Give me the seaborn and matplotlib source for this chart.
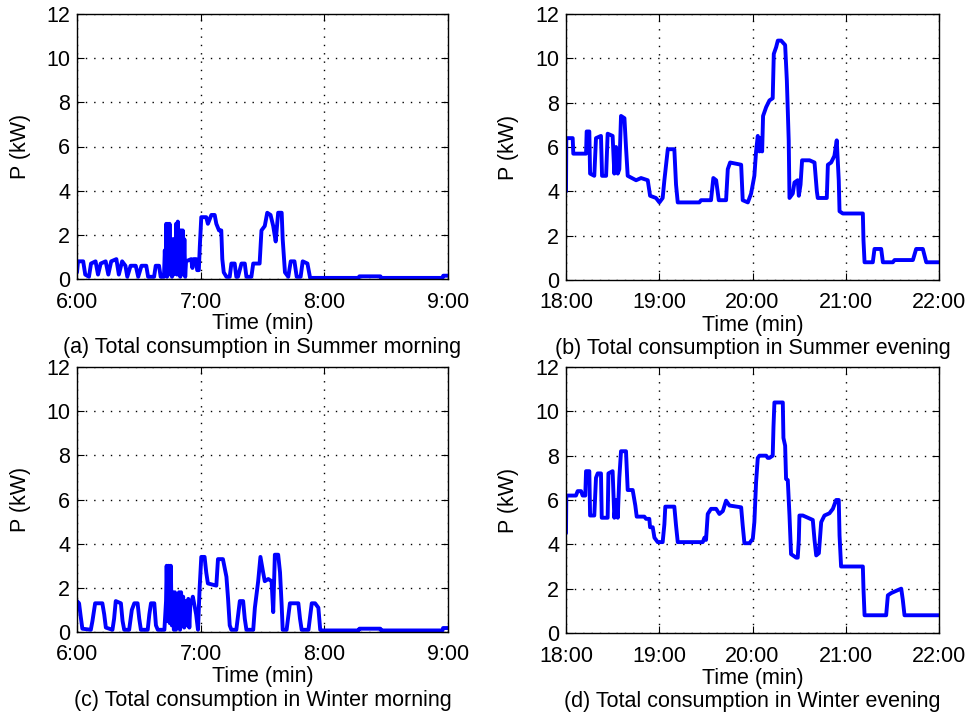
import numpy as np
import pandas as pd
import matplotlib
matplotlib.use("Agg")
import matplotlib.pyplot as plt
import seaborn as sns

# ---------------- data (minutes after start, kW) ----------------
summer_morning_t = [
    0, 0.5, 3.0, 4.0, 5.8, 6.8, 9.0, 10.2, 11.5, 13.9,
    15.2, 16.6, 19.1, 20.3, 21.9, 23.5, 24.4, 26.0, 28.5, 29.7,
    31.3, 33.6, 34.5, 37.4, 38.2, 39.8, 40.6, 42.2, 42.6, 43.0,
    43.3, 43.7, 44.1, 44.5, 44.9, 45.3, 45.7, 46.1, 46.5, 46.9,
    47.3, 47.7, 48.1, 48.5, 48.9, 49.3, 49.7, 50.1, 50.5, 50.9,
    51.3, 51.7, 52.1, 52.5, 52.9, 55.4, 56.0, 56.6, 57.8, 58.3,
    59.1, 59.6, 60.3, 62.7, 63.5, 65.2, 66.8, 67.6, 68.9, 70.0,
    70.5, 71.2, 72.5, 74.1, 74.9, 76.5, 77.3, 78.1, 79.8, 81.4,
    82.2, 84.6, 85.5, 87.1, 88.6, 89.5, 91.1, 92.3, 93.9, 95.2,
    96.4, 97.6, 99.3, 99.8, 100.9, 102.5, 103.7, 105.5, 106.6, 108.5,
    109.5, 111.8, 113.1, 136.6, 137.0, 147.2, 147.6, 177.3, 177.7, 180]
summer_morning_p = [
    0.3, 0.8, 0.8, 0.2, 0.1, 0.7, 0.8, 0.2, 0.7, 0.8,
    0.2, 0.8, 0.9, 0.2, 0.8, 0.6, 0.1, 0.6, 0.6, 0.1,
    0.6, 0.6, 0.1, 0.1, 0.6, 0.6, 0.1, 0.1, 1.3, 0.2,
    2.5, 0.1, 2.5, 0.2, 2.5, 0.3, 1.8, 0.1, 1.8, 0.2,
    1.8, 0.3, 2.5, 0.2, 2.6, 0.4, 2.2, 0.1, 2.2, 0.3,
    2.2, 0.2, 1.8, 0.1, 0.8, 0.9, 0.5, 0.9, 0.9, 0.4,
    0.4, 1.5, 2.8, 2.8, 2.5, 2.9, 2.9, 2.5, 2.2, 2.2,
    0.9, 0.3, 0.1, 0.1, 0.7, 0.7, 0.1, 0.1, 0.7, 0.7,
    0.1, 0.1, 0.7, 0.7, 0.7, 2.2, 2.4, 3.0, 2.9, 2.4,
    1.7, 3.0, 3.0, 1.8, 0.3, 0.1, 0.8, 0.8, 0.1, 0.1,
    0.8, 0.7, 0.05, 0.05, 0.12, 0.12, 0.05, 0.05, 0.15, 0.15]

summer_evening_t = [
    0, 0.2, 4.3, 4.7, 12.9, 13.3, 15.0, 15.5, 18.2, 19.3,
    22.5, 23.2, 25.8, 26.8, 30.0, 31.1, 32.2, 33.3, 34.3, 35.4,
    37.6, 38.6, 39.7, 45.1, 48.3, 52.6, 54.1, 57.9, 60.1, 62.2,
    63.3, 65.5, 69.7, 70.8, 71.9, 85.8, 86.9, 93.3, 94.8, 96.6,
    98.3, 103.0, 104.1, 105.6, 112.7, 113.7, 117.0, 119.1, 121.2, 122.3,
    123.4, 124.5, 125.5, 126.2, 126.8, 128.8, 130.9, 133.0, 133.7, 135.2,
    136.3, 138.4, 141.0, 142.1, 143.3, 143.8, 145.9, 147.0, 149.1, 149.8,
    150.9, 151.9, 156.7, 159.9, 161.4, 162.0, 167.8, 168.5, 170.6, 172.7,
    174.2, 175.5, 176.0, 178.1, 191.0, 191.4, 192.1, 197.4, 198.5, 202.8,
    203.9, 210.3, 211.4, 223.2, 225.3, 229.6, 231.8, 240]
summer_evening_p = [
    4.0, 6.4, 6.4, 5.7, 5.7, 6.7, 6.7, 4.8, 4.7, 6.4,
    6.5, 4.7, 4.7, 6.6, 6.5, 4.8, 6.0, 4.8, 5.0, 7.4,
    7.3, 6.0, 4.7, 4.5, 4.6, 4.5, 3.8, 3.7, 3.5, 3.7,
    4.5, 5.9, 5.9, 4.3, 3.5, 3.5, 3.6, 3.6, 4.6, 4.5,
    3.6, 3.6, 5.0, 5.3, 5.2, 3.6, 3.5, 3.9, 4.7, 5.8,
    6.5, 5.8, 6.4, 5.8, 7.4, 7.8, 8.1, 8.2, 10.2, 10.5,
    10.8, 10.8, 10.6, 9.0, 6.3, 3.7, 3.9, 4.4, 4.5, 3.8,
    4.3, 5.4, 5.4, 5.3, 4.0, 3.7, 3.7, 5.2, 5.3, 5.6,
    6.3, 4.5, 3.1, 3.0, 3.0, 1.8, 0.8, 0.8, 1.4, 1.4,
    0.8, 0.8, 0.9, 0.9, 1.4, 1.4, 0.8, 0.8]

winter_morning_t = [
    0, 1.0, 1.8, 2.6, 6.7, 7.5, 8.8, 12.3, 13.2, 14.0,
    17.2, 18.0, 18.8, 21.3, 22.1, 22.9, 25.3, 26.6, 27.8, 29.4,
    30.2, 31.0, 34.3, 35.1, 35.9, 37.5, 38.3, 39.2, 42.4, 43.2,
    43.5, 44.0, 44.5, 45.0, 45.5, 46.0, 46.5, 47.0, 47.5, 48.0,
    48.5, 49.0, 49.5, 50.0, 50.5, 51.0, 51.5, 52.0, 52.5, 53.0,
    53.5, 54.0, 54.5, 55.0, 55.4, 56.2, 57.8, 58.7, 59.5, 60.3,
    61.9, 62.7, 63.5, 67.6, 68.4, 70.8, 72.5, 73.3, 74.1, 74.9,
    77.3, 79.0, 80.6, 81.4, 82.2, 85.5, 86.3, 87.9, 89.0, 90.3,
    91.1, 92.8, 94.4, 95.2, 96.0, 97.6, 98.5, 99.3, 99.8, 101.7,
    103.3, 107.4, 108.2, 109.0, 112.3, 113.9, 115.5, 117.1, 118.0, 118.8,
    136.6, 137.0, 147.2, 147.5, 177.3, 177.6, 180]
winter_morning_p = [
    1.4, 1.3, 0.7, 0.15, 0.1, 0.5, 1.3, 1.3, 0.8, 0.2,
    0.1, 0.6, 1.4, 1.3, 0.5, 0.1, 0.1, 1.0, 1.3, 1.3,
    0.6, 0.1, 0.1, 0.8, 1.3, 1.3, 0.3, 0.1, 0.1, 1.4,
    3.0, 0.5, 3.0, 0.4, 3.0, 0.3, 1.8, 0.1, 1.8, 0.1,
    1.7, 0.2, 1.8, 0.1, 1.8, 0.3, 1.6, 0.2, 1.4, 1.2,
    0.3, 1.5, 0.2, 1.3, 1.3, 1.6, 0.8, 0.1, 2.0, 3.4,
    3.4, 2.7, 2.2, 2.1, 3.3, 3.3, 2.5, 1.5, 0.3, 0.1,
    0.1, 1.4, 1.4, 0.6, 0.1, 0.1, 1.1, 2.3, 3.4, 2.7,
    2.3, 2.4, 2.3, 0.9, 3.5, 3.5, 2.7, 1.2, 0.1, 0.1,
    1.3, 1.3, 0.6, 0.1, 0.1, 1.3, 1.3, 1.1, 0.1, 0.07,
    0.07, 0.15, 0.15, 0.07, 0.07, 0.18, 0.18]

winter_evening_t = [
    0, 0.2, 6.4, 7.5, 9.7, 10.7, 12.4, 12.9, 15.0, 15.5,
    18.2, 19.3, 20.4, 22.5, 23.0, 26.8, 27.3, 30.0, 31.1, 32.2,
    33.3, 34.3, 35.4, 38.6, 39.7, 42.9, 44.6, 45.5, 50.4, 51.5,
    53.6, 54.1, 55.8, 56.9, 59.0, 62.2, 63.3, 63.9, 69.7, 70.8,
    71.9, 88.0, 89.1, 90.1, 91.2, 93.3, 96.6, 98.7, 100.9, 103.0,
    105.2, 112.7, 113.7, 114.8, 118.0, 120.2, 121.2, 122.3, 123.4, 124.5,
    128.8, 129.8, 130.9, 133.0, 133.5, 134.1, 139.5, 139.9, 141.0, 141.6,
    142.7, 143.8, 144.8, 148.1, 149.1, 149.8, 150.2, 152.4, 155.6, 158.8,
    159.9, 161.0, 162.7, 164.2, 166.3, 169.5, 171.7, 173.8, 175.5, 176.0,
    177.0, 191.0, 191.4, 192.1, 206.0, 207.1, 209.2, 212.4, 215.7, 216.7,
    217.8, 240]
winter_evening_p = [
    4.5, 6.2, 6.2, 6.4, 6.4, 6.2, 6.2, 7.3, 7.3, 5.3,
    5.3, 7.0, 7.2, 7.2, 5.2, 5.2, 7.2, 7.3, 5.2, 6.0,
    5.2, 7.0, 8.2, 8.2, 6.45, 6.45, 5.75, 5.25, 5.25, 5.15,
    5.15, 4.77, 4.77, 4.3, 4.1, 4.1, 4.9, 5.7, 5.7, 4.85,
    4.1, 4.1, 4.3, 4.2, 5.37, 5.6, 5.6, 5.37, 5.5, 5.97,
    5.75, 5.67, 4.85, 4.05, 4.05, 4.25, 5.0, 6.8, 7.9, 8.0,
    8.0, 7.9, 7.9, 8.0, 9.3, 10.4, 10.4, 8.8, 8.45, 6.95,
    6.9, 5.3, 3.56, 3.4, 3.4, 4.2, 5.3, 5.3, 5.2, 5.1,
    4.2, 3.5, 3.6, 5.0, 5.3, 5.4, 5.6, 6.0, 6.0, 4.4,
    3.0, 3.0, 2.0, 0.8, 0.8, 1.7, 1.8, 1.9, 2.0, 1.5,
    0.8, 0.8]

morning_ticks = [0, 60, 120, 180]
morning_labels = ["6:00", "7:00", "8:00", "9:00"]
evening_ticks = [0, 60, 120, 180, 240]
evening_labels = ["18:00", "19:00", "20:00", "21:00", "22:00"]
y_ticks = [0, 2, 4, 6, 8, 10, 12]

captions = ["(a) Total consumption in Summer morning",
            "(b) Total consumption in Summer evening",
            "(c) Total consumption in Winter morning",
            "(d) Total consumption in Winter evening"]

# ---------------- style ----------------
sns.set_style("white")
plt.rcParams["font.family"] = ["Liberation Sans", "DejaVu Sans"]
plt.rcParams["text.color"] = "black"
plt.rcParams["axes.labelcolor"] = "black"
FS = 15.5

fig = plt.figure(figsize=(9.67, 7.13), dpi=100)
W, H = 967, 713

def axes_px(left, top, right, bottom):
    return fig.add_axes([left / W, 1 - bottom / H, (right - left) / W, (bottom - top) / H])

panels = [
    (axes_px(77, 14, 448, 279), summer_morning_t, summer_morning_p, morning_ticks, morning_labels, 180),
    (axes_px(566, 14, 939, 280), summer_evening_t, summer_evening_p, evening_ticks, evening_labels, 240),
    (axes_px(77, 367, 448, 632), winter_morning_t, winter_morning_p, morning_ticks, morning_labels, 180),
    (axes_px(566, 367, 939, 633), winter_evening_t, winter_evening_p, evening_ticks, evening_labels, 240),
]

for (ax, t, p, xt, xl, xmax), cap in zip(panels, captions):
    df = pd.DataFrame({"t": t, "p": p})
    sns.lineplot(data=df, x="t", y="p", ax=ax, color="#0000ff", linewidth=2.8,
                 estimator=None, sort=False)
    ax.set_xlim(0, xmax)
    ax.set_ylim(0, 12)
    ax.set_xticks(xt)
    ax.set_xticklabels(xl)
    ax.set_yticks(y_ticks)
    ax.set_yticklabels([str(v) for v in y_ticks])
    ax.grid(True, color="black", linestyle=(0, (1, 5)), linewidth=1.0)
    ax.set_axisbelow(True)
    for s in ax.spines.values():
        s.set_color("black")
        s.set_linewidth(1.0)
        s.set_visible(True)
    ax.tick_params(direction="in", length=5, width=0.8, top=True, right=True,
                   bottom=True, left=True, labelsize=FS, colors="black")
    ax.tick_params(axis="x", pad=9)
    ax.tick_params(axis="y", pad=5)
    ax.set_xlabel("Time (min)", fontsize=FS)
    ax.set_ylabel("P (kW)", fontsize=FS)
    ax.xaxis.set_label_coords(0.5, -0.13)
    ax.yaxis.set_label_coords(-0.125, 0.5)
    ax.text(0.5, -0.217, cap, transform=ax.transAxes, ha="center", va="top", fontsize=FS)

fig.savefig("out.png", dpi=100)
